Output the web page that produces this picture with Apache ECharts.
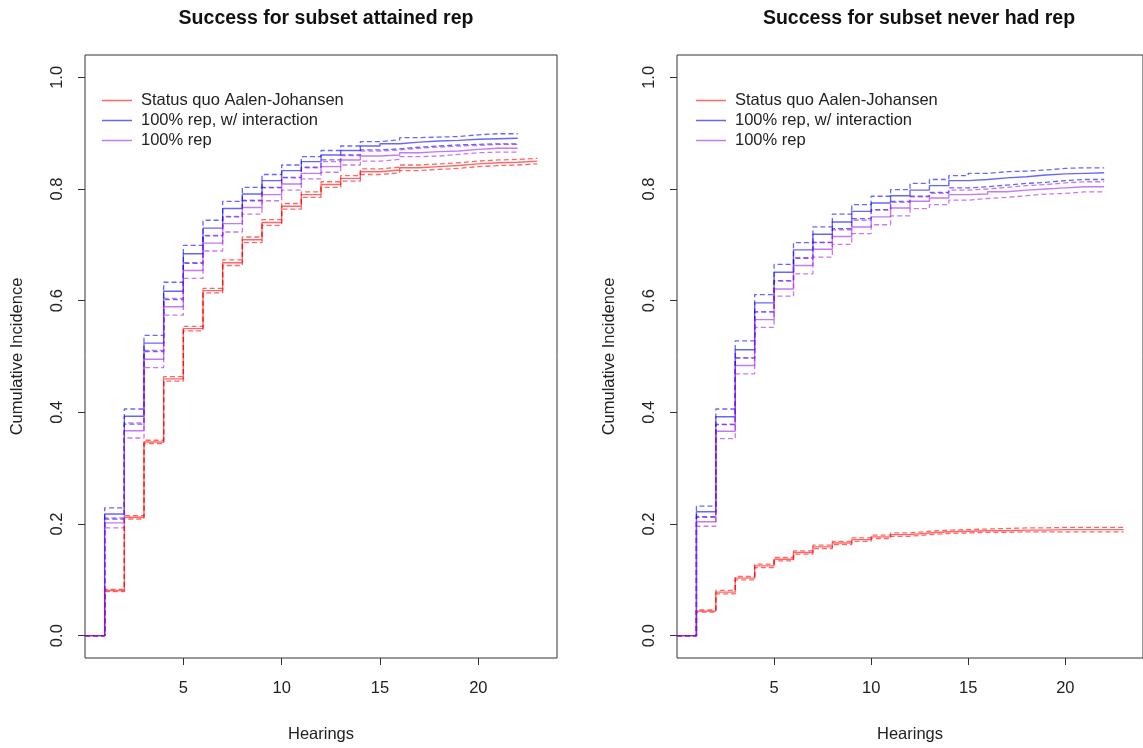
<!DOCTYPE html>
<html>
<head>
<meta charset="utf-8">
<script src="https://cdn.jsdelivr.net/npm/echarts@6/dist/echarts.min.js"></script>
<style>
  html, body { margin: 0; padding: 0; background: #fff; }
  #chart { width: 1143px; height: 748px; }
</style>
</head>
<body>
<div id="chart"></div>
<script>
// 标签和刻度
const legendNames = ['Status quo Aalen-Johansen', '100% rep, w/ interaction', '100% rep']
const xTicks = [5, 10, 15, 20]
const yTicks = [0, 0.2, 0.4, 0.6, 0.8, 1.0]

// 左图: attained rep (每个值对应 hearing 0,1,2,... 起的一段)
const leftRed = [0, 0.081, 0.212, 0.347, 0.460, 0.550, 0.618, 0.668, 0.709, 0.740, 0.769, 0.790, 0.808, 0.819, 0.831, 0.834, 0.838, 0.840, 0.842, 0.845, 0.847, 0.848, 0.850]
const leftRedHi = [0, 0.083, 0.215, 0.350, 0.464, 0.554, 0.622, 0.673, 0.714, 0.745, 0.774, 0.795, 0.813, 0.824, 0.836, 0.839, 0.843, 0.845, 0.847, 0.850, 0.852, 0.853, 0.855]
const leftRedLo = [0, 0.079, 0.209, 0.344, 0.456, 0.546, 0.614, 0.663, 0.704, 0.735, 0.764, 0.785, 0.803, 0.814, 0.826, 0.829, 0.833, 0.835, 0.837, 0.840, 0.842, 0.843, 0.845]
const leftBlue = [0, 0.218, 0.393, 0.524, 0.617, 0.684, 0.730, 0.765, 0.791, 0.815, 0.833, 0.849, 0.861, 0.869, 0.877, 0.881, 0.884, 0.886, 0.887, 0.889, 0.890, 0.891]
const leftBlueHi = [0, 0.229, 0.406, 0.538, 0.633, 0.699, 0.744, 0.778, 0.803, 0.826, 0.843, 0.858, 0.869, 0.877, 0.885, 0.888, 0.892, 0.893, 0.894, 0.897, 0.899, 0.899]
const leftBlueLo = [0, 0.209, 0.379, 0.509, 0.602, 0.667, 0.716, 0.750, 0.779, 0.803, 0.821, 0.839, 0.852, 0.861, 0.870, 0.872, 0.875, 0.877, 0.879, 0.880, 0.881, 0.881]
const leftPurple = [0, 0.202, 0.367, 0.495, 0.589, 0.654, 0.703, 0.738, 0.767, 0.790, 0.809, 0.828, 0.840, 0.852, 0.859, 0.861, 0.865, 0.867, 0.868, 0.871, 0.873, 0.873]
const leftPurpleHi = [0, 0.211, 0.381, 0.511, 0.604, 0.668, 0.717, 0.751, 0.780, 0.802, 0.820, 0.838, 0.849, 0.860, 0.868, 0.870, 0.873, 0.875, 0.877, 0.878, 0.880, 0.880]
const leftPurpleLo = [0, 0.193, 0.354, 0.480, 0.574, 0.640, 0.689, 0.723, 0.755, 0.779, 0.798, 0.818, 0.830, 0.843, 0.850, 0.853, 0.858, 0.859, 0.862, 0.865, 0.866, 0.866]

// 右图: never had rep
const rightRed = [0, 0.044, 0.078, 0.103, 0.125, 0.137, 0.149, 0.159, 0.166, 0.172, 0.177, 0.181, 0.184, 0.186, 0.187, 0.188, 0.188, 0.189, 0.189, 0.190, 0.190, 0.190, 0.190]
const rightRedHi = [0, 0.046, 0.081, 0.106, 0.128, 0.140, 0.152, 0.162, 0.169, 0.175, 0.180, 0.184, 0.187, 0.189, 0.190, 0.191, 0.192, 0.193, 0.193, 0.194, 0.194, 0.194, 0.194]
const rightRedLo = [0, 0.042, 0.075, 0.100, 0.122, 0.134, 0.146, 0.156, 0.163, 0.169, 0.174, 0.178, 0.181, 0.183, 0.184, 0.185, 0.185, 0.186, 0.186, 0.186, 0.186, 0.186, 0.186]
const rightBlue = [0, 0.222, 0.392, 0.512, 0.596, 0.651, 0.691, 0.719, 0.741, 0.760, 0.775, 0.788, 0.798, 0.806, 0.815, 0.817, 0.820, 0.822, 0.825, 0.827, 0.828, 0.829]
const rightBlueHi = [0, 0.232, 0.406, 0.528, 0.611, 0.665, 0.704, 0.732, 0.755, 0.772, 0.787, 0.799, 0.810, 0.817, 0.824, 0.828, 0.831, 0.832, 0.834, 0.837, 0.838, 0.838]
const rightBlueLo = [0, 0.213, 0.378, 0.497, 0.580, 0.636, 0.676, 0.704, 0.729, 0.747, 0.763, 0.778, 0.787, 0.794, 0.802, 0.804, 0.807, 0.810, 0.812, 0.815, 0.817, 0.817]
const rightPurple = [0, 0.204, 0.366, 0.484, 0.566, 0.621, 0.663, 0.692, 0.715, 0.732, 0.750, 0.766, 0.778, 0.784, 0.790, 0.791, 0.795, 0.798, 0.800, 0.802, 0.804, 0.804]
const rightPurpleHi = [0, 0.212, 0.379, 0.498, 0.580, 0.635, 0.677, 0.705, 0.727, 0.744, 0.762, 0.776, 0.786, 0.792, 0.798, 0.800, 0.803, 0.806, 0.808, 0.811, 0.813, 0.813]
const rightPurpleLo = [0, 0.196, 0.353, 0.469, 0.552, 0.608, 0.648, 0.678, 0.701, 0.720, 0.736, 0.752, 0.765, 0.772, 0.780, 0.783, 0.785, 0.788, 0.791, 0.792, 0.795, 0.795]

const RED = 'rgba(255,0,0,0.6)'
const BLUE = 'rgba(0,0,255,0.6)'
const PURPLE = 'rgba(160,32,240,0.6)'
const FONT = 'Liberation Sans, Arial, sans-serif'

// 阶梯数据: 最后一段延伸到下一个 hearing
const toSteps = arr => {
  const pts = arr.map((v, i) => [i, v])
  pts.push([arr.length, arr[arr.length - 1]])
  return pts
}

const stepLine = (name, arr, color, idx, dashed) => ({
  name: name,
  type: 'line',
  step: 'end',
  xAxisIndex: idx,
  yAxisIndex: idx,
  symbol: 'none',
  silent: true,
  animation: false,
  lineStyle: { color: color, width: dashed ? 1.3 : 1.4, type: dashed ? [5, 3] : 'solid' },
  itemStyle: { color: color },
  data: toSteps(arr)
})

const panelSeries = (idx, red, redHi, redLo, blue, blueHi, blueLo, purple, purpleHi, purpleLo) => [
  stepLine('ci-red-hi-' + idx, redHi, RED, idx, true),
  stepLine('ci-red-lo-' + idx, redLo, RED, idx, true),
  stepLine('ci-blue-hi-' + idx, blueHi, BLUE, idx, true),
  stepLine('ci-blue-lo-' + idx, blueLo, BLUE, idx, true),
  stepLine('ci-purple-hi-' + idx, purpleHi, PURPLE, idx, true),
  stepLine('ci-purple-lo-' + idx, purpleLo, PURPLE, idx, true),
  stepLine(legendNames[0], red, RED, idx, false),
  stepLine(legendNames[1], blue, BLUE, idx, false),
  stepLine(legendNames[2], purple, PURPLE, idx, false)
]

const xAxisBase = gridIndex => ({
  type: 'value',
  gridIndex: gridIndex,
  min: 0,
  max: 24,
  name: 'Hearings',
  nameLocation: 'middle',
  nameGap: 68,
  nameTextStyle: { color: '#222', fontSize: 16.5, fontFamily: FONT },
  axisLine: { show: false, onZero: false },
  axisTick: { show: true, length: 7, customValues: xTicks, lineStyle: { color: '#333' } },
  axisLabel: { customValues: xTicks, margin: 22, color: '#222', fontSize: 16.5, fontFamily: FONT },
  splitLine: { show: false }
})

const yAxisBase = gridIndex => ({
  type: 'value',
  gridIndex: gridIndex,
  min: -0.04,
  max: 1.04,
  name: 'Cumulative Incidence',
  nameLocation: 'middle',
  nameGap: 59,
  nameTextStyle: { color: '#222', fontSize: 16.5, fontFamily: FONT },
  axisLine: { show: false, onZero: false },
  axisTick: { show: true, length: 7, customValues: yTicks, lineStyle: { color: '#333' } },
  axisLabel: {
    customValues: yTicks,
    rotate: 90,
    margin: 19,
    color: '#222',
    fontSize: 16.5,
    fontFamily: FONT,
    formatter: v => v.toFixed(1)
  },
  splitLine: { show: false }
})

const legendBase = left => ({
  orient: 'vertical',
  left: left,
  top: 87,
  icon: 'rect',
  itemWidth: 30,
  itemHeight: 1.5,
  itemGap: 3,
  selectedMode: false,
  data: legendNames,
  textStyle: { color: '#222', fontSize: 16.5, fontFamily: FONT, padding: [0, 0, 0, 4] }
})

const chart = echarts.init(document.getElementById('chart'), null, { renderer: 'canvas' })
chart.setOption({
  backgroundColor: '#fff',
  animation: false,
  title: [
    {
      text: 'Success for subset attained rep',
      left: 321,
      top: 4,
      textAlign: 'center',
      textStyle: { color: '#111', fontSize: 19.5, fontWeight: 'bold', fontFamily: FONT }
    },
    {
      text: 'Success for subset never had rep',
      left: 914,
      top: 4,
      textAlign: 'center',
      textStyle: { color: '#111', fontSize: 19.5, fontWeight: 'bold', fontFamily: FONT }
    }
  ],
  legend: [legendBase(97), legendBase(691)],
  grid: [
    { left: 85, top: 55, width: 472, height: 610, show: true, borderColor: '#333', borderWidth: 1, backgroundColor: 'transparent' },
    { left: 677, top: 55, width: 475, height: 610, show: true, borderColor: '#333', borderWidth: 1, backgroundColor: 'transparent' }
  ],
  xAxis: [xAxisBase(0), xAxisBase(1)],
  yAxis: [yAxisBase(0), yAxisBase(1)],
  series: [
    ...panelSeries(0, leftRed, leftRedHi, leftRedLo, leftBlue, leftBlueHi, leftBlueLo, leftPurple, leftPurpleHi, leftPurpleLo),
    ...panelSeries(1, rightRed, rightRedHi, rightRedLo, rightBlue, rightBlueHi, rightBlueLo, rightPurple, rightPurpleHi, rightPurpleLo)
  ]
})
</script>
</body>
</html>
